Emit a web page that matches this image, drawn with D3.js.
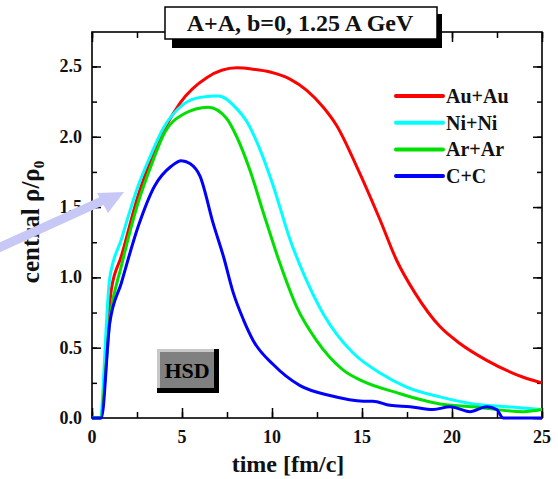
<!DOCTYPE html>
<html>
<head>
<meta charset="utf-8">
<script src="https://cdn.jsdelivr.net/npm/d3@7"></script>
<style>
  body { margin: 0; background: #fff; }
  svg text { font-family: "Liberation Serif", "Times New Roman", serif; font-weight: bold; fill: #111; }
</style>
</head>
<body>
<div id="chart"></div>
<script>
// series: [time fm/c, central rho/rho0]
const auau = [[0,0],[0.45,0],[1.07,0.91],[1.63,1.15],[2.56,1.58],[3.3,1.85],[4.89,2.24],[6.37,2.42],[8.04,2.49],
  [8.96,2.48],[9.89,2.46],[11.0,2.41],[11.93,2.33],[12.85,2.21],[13.59,2.08],[14.7,1.79],[16.0,1.41],[16.93,1.12],
  [17.94,0.89],[19.33,0.65],[20.44,0.53],[21.93,0.41],[23.96,0.29],[25,0.25]];
const nini = [[0,0],[0.43,0],[0.98,0.99],[1.63,1.27],[2.56,1.65],[3.2,1.85],[3.96,2.06],[5.07,2.23],[6.0,2.28],[7.02,2.29],
  [8.04,2.2],[8.59,2.11],[9.33,1.91],[10.07,1.65],[11.0,1.27],[11.74,1.03],[12.85,0.74],[14.52,0.46],[16.0,0.32],
  [17.48,0.22],[19.33,0.15],[21.18,0.1],[23.04,0.08],[25,0.06]];
const arar = [[0,0],[0.45,0],[1.04,0.75],[1.63,1.08],[2.56,1.53],[3.39,1.83],[3.96,2.01],[5.07,2.16],[6.46,2.21],[7.48,2.13],
  [8.04,2.0],[8.78,1.76],[9.52,1.46],[10.44,1.1],[11.37,0.79],[12.48,0.55],[13.96,0.34],[15.07,0.26],[16.93,0.18],
  [19.33,0.1],[21.18,0.08],[23.96,0.045],[25,0.06]];
const cc = [[0,0],[0.52,0],[0.98,0.67],[1.63,0.96],[2.56,1.36],[3.48,1.65],[4.4,1.79],[4.96,1.83],[5.44,1.81],[6.0,1.72],
  [6.74,1.38],[7.3,1.15],[7.85,0.89],[8.41,0.7],[8.96,0.55],[10.07,0.38],[11.56,0.23],[13.22,0.16],[15.07,0.12],
  [15.6,0.12],[16.56,0.09],[17.67,0.08],[18.96,0.06],[19.89,0.08],[21.0,0.045],[21.93,0.08],[22.48,0.06],
  [22.85,0],[25,0]];

const seriesNames = ["Au+Au", "Ni+Ni", "Ar+Ar", "C+C"];
const seriesColors = ["#ff0000", "#00ffff", "#00e000", "#0000ff"];
const xTicks = [0, 5, 10, 15, 20, 25];
const yTicks = [0, 0.5, 1.0, 1.5, 2.0, 2.5];

const width = 558, height = 479;
const margin = {top: 32, right: 16, bottom: 61, left: 92};

let svg = d3.select("#chart").append("svg")
    .attr("width", width)
    .attr("height", height);

let x = d3.scaleLinear().domain([0, 25]).range([margin.left, width - margin.right]);
let y = d3.scaleLinear().domain([0, 2.745]).range([height - margin.bottom, margin.top]);

// axes, ticks pointing inward
let xMinor = d3.range(0, 25.01, 2.5);
let yMinor = d3.range(0, 2.74, 0.25);

svg.append("g").attr("transform", `translate(0,${y(0)})`)
    .call(d3.axisTop(x).tickValues(xMinor).tickSize(6).tickFormat(""));
svg.append("g").attr("transform", `translate(0,${y(0)})`)
    .call(d3.axisTop(x).tickValues(xTicks).tickSize(10).tickFormat(""));
svg.append("g").attr("transform", `translate(0,${margin.top})`)
    .call(d3.axisBottom(x).tickValues(xMinor).tickSize(6).tickFormat(""));
svg.append("g").attr("transform", `translate(0,${margin.top})`)
    .call(d3.axisBottom(x).tickValues(xTicks).tickSize(10).tickFormat(""));
svg.append("g").attr("transform", `translate(${x(0)},0)`)
    .call(d3.axisRight(y).tickValues(yMinor).tickSize(5).tickFormat(""));
svg.append("g").attr("transform", `translate(${x(0)},0)`)
    .call(d3.axisRight(y).tickValues(yTicks).tickSize(9).tickFormat(""));
svg.append("g").attr("transform", `translate(${x(25)},0)`)
    .call(d3.axisLeft(y).tickValues(yMinor).tickSize(5).tickFormat(""));
svg.append("g").attr("transform", `translate(${x(25)},0)`)
    .call(d3.axisLeft(y).tickValues(yTicks).tickSize(9).tickFormat(""));

svg.selectAll(".domain").remove();
svg.selectAll(".tick line").attr("stroke", "#000").attr("stroke-width", 1.5);

svg.append("rect")
    .attr("x", x(0)).attr("y", y(2.745))
    .attr("width", x(25) - x(0)).attr("height", y(0) - y(2.745))
    .attr("fill", "none").attr("stroke", "#000").attr("stroke-width", 1.6);

// tick labels
svg.selectAll(".xlab").data(xTicks).enter().append("text")
    .attr("class", "xlab")
    .attr("x", d => x(d)).attr("y", 443)
    .attr("text-anchor", "middle").style("font-size", "18px")
    .text(d => d);
svg.selectAll(".ylab").data(yTicks).enter().append("text")
    .attr("class", "ylab")
    .attr("x", 82).attr("y", d => y(d) + 6)
    .attr("text-anchor", "end").style("font-size", "18px")
    .text(d => d3.format(".1f")(d));

// axis titles
svg.append("text")
    .attr("x", 288).attr("y", 472)
    .attr("text-anchor", "middle").style("font-size", "24px")
    .text("time [fm/c]");
let yt = svg.append("text")
    .attr("transform", `translate(39,${(y(0) + y(2.745)) / 2 - 3}) rotate(-90)`)
    .attr("text-anchor", "middle").style("font-size", "25px");
yt.append("tspan").text("central \u03c1/\u03c1");
yt.append("tspan").attr("dy", 5).style("font-size", "15px").text("0");

// curves
let line = d3.line().x(d => x(d[0])).y(d => y(d[1])).curve(d3.curveMonotoneX);
let allSeries = [auau, nini, arar, cc];
svg.selectAll(".curve").data(allSeries).enter().append("path")
    .attr("class", "curve")
    .attr("d", line)
    .attr("fill", "none")
    .attr("stroke", (d, i) => seriesColors[i])
    .attr("stroke-width", 3)
    .attr("stroke-linejoin", "round");

// legend
let legend = svg.selectAll(".leg").data(seriesNames).enter().append("g")
    .attr("class", "leg")
    .attr("transform", (d, i) => `translate(396,${96 + i * 26.7})`);
legend.append("line")
    .attr("x1", 0).attr("x2", 47)
    .attr("stroke", (d, i) => seriesColors[i])
    .attr("stroke-width", 4).attr("stroke-linecap", "round");
legend.append("text")
    .attr("x", 50).attr("y", 7)
    .style("font-size", "20px")
    .text(d => d);

// HSD badge
let hsd = svg.append("g").attr("transform", "translate(157,349)");
hsd.append("rect").attr("x", 0).attr("y", 0).attr("width", 62).attr("height", 44).attr("fill", "#000");
hsd.append("rect").attr("x", 0).attr("y", 0).attr("width", 57).attr("height", 39).attr("fill", "#c8c8c8");
hsd.append("rect").attr("x", 3).attr("y", 3).attr("width", 54).attr("height", 36).attr("fill", "#808080");
hsd.append("text").attr("x", 30).attr("y", 29)
    .attr("text-anchor", "middle").style("font-size", "22px").style("fill", "#000")
    .text("HSD");

// title box
svg.append("rect").attr("x", 172).attr("y", 14).attr("width", 270).attr("height", 34).attr("fill", "#000");
svg.append("rect").attr("x", 165).attr("y", 7).attr("width", 272).attr("height", 32)
    .attr("fill", "#fff").attr("stroke", "#000").attr("stroke-width", 1.5);
svg.append("text").attr("x", 300).attr("y", 31)
    .attr("text-anchor", "middle").style("font-size", "24px")
    .text("A+A, b=0, 1.25 A GeV");

// pointer arrow
let arrowColor = "#c8c8f6";
svg.append("line")
    .attr("x1", -5).attr("y1", 249.5).attr("x2", 104).attr("y2", 200)
    .attr("stroke", arrowColor).attr("stroke-width", 9);
svg.append("path")
    .attr("d", "M124,192 L97,193 L108,213 Z")
    .attr("fill", arrowColor);
</script>
</body>
</html>
